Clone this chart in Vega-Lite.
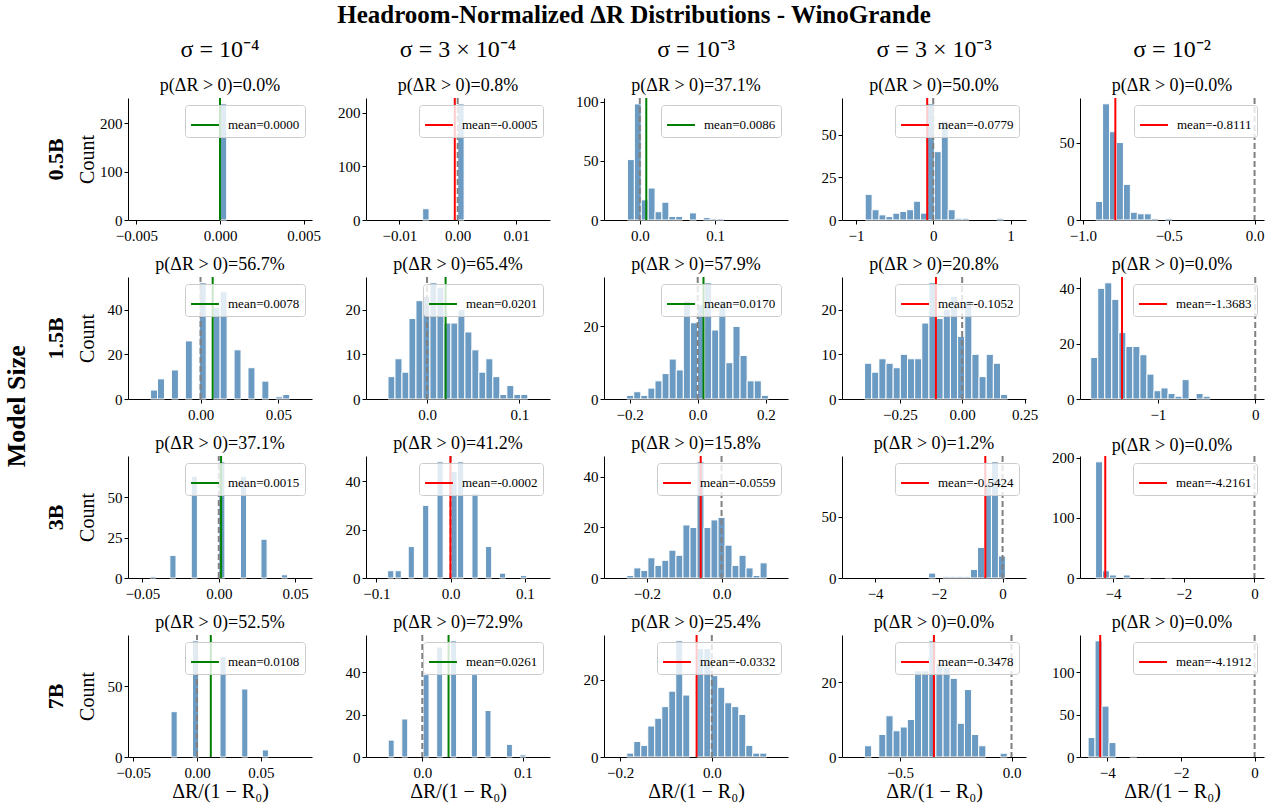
{
"$schema": "https://vega.github.io/schema/vega-lite/v6.json",
"background": "white",
"padding": {"left": 4, "top": 2, "right": 4, "bottom": 4},
"title": {"text": "Headroom-Normalized ΔR Distributions - WinoGrande", "fontSize": 25, "fontWeight": "bold", "offset": 10, "anchor": "middle", "frame": "bounds"},
"config": {
  "font": "Liberation Serif",
  "view": {"stroke": null},
  "axis": {"labelFont": "Liberation Serif", "labelFontSize": 15, "labelColor": "black", "titleFont": "Liberation Serif", "titleFontSize": 20, "titleFontWeight": "normal", "titleColor": "black", "domainColor": "black", "domainWidth": 1, "tickColor": "black", "tickWidth": 1, "tickSize": 4, "grid": false, "labelOverlap": false, "labelFlush": false, "labelBound": false},
  "axisX": {"labelPadding": 4, "titlePadding": 1},
  "axisY": {"labelPadding": 2},
  "title": {"font": "Liberation Serif", "fontSize": 18, "fontWeight": "normal", "color": "black", "subtitleFont": "Liberation Serif", "subtitleFontSize": 18, "subtitleColor": "black", "anchor": "middle", "frame": "group", "offset": 2},
  "legend": {"orient": "top-right", "offset": 7, "padding": 5, "fillColor": "rgba(255,255,255,0.8)", "strokeColor": "#cccccc", "cornerRadius": 3, "symbolType": "stroke", "symbolStrokeWidth": 2, "symbolSize": 780, "labelFont": "Liberation Serif", "labelFontSize": 13, "labelColor": "black", "labelOffset": 8, "labelLimit": 0}
},
"datasets": {
"stats": [
{"model":"0.5B","sigma":"1e-4","mean":0.0000,"label":"mean=0.0000"},
{"model":"0.5B","sigma":"3e-4","mean":-0.0005,"label":"mean=-0.0005"},
{"model":"0.5B","sigma":"1e-3","mean":0.0086,"label":"mean=0.0086"},
{"model":"0.5B","sigma":"3e-3","mean":-0.0779,"label":"mean=-0.0779"},
{"model":"0.5B","sigma":"1e-2","mean":-0.8111,"label":"mean=-0.8111"},
{"model":"1.5B","sigma":"1e-4","mean":0.0078,"label":"mean=0.0078"},
{"model":"1.5B","sigma":"3e-4","mean":0.0201,"label":"mean=0.0201"},
{"model":"1.5B","sigma":"1e-3","mean":0.0170,"label":"mean=0.0170"},
{"model":"1.5B","sigma":"3e-3","mean":-0.1052,"label":"mean=-0.1052"},
{"model":"1.5B","sigma":"1e-2","mean":-1.3683,"label":"mean=-1.3683"},
{"model":"3B","sigma":"1e-4","mean":0.0015,"label":"mean=0.0015"},
{"model":"3B","sigma":"3e-4","mean":-0.0002,"label":"mean=-0.0002"},
{"model":"3B","sigma":"1e-3","mean":-0.0559,"label":"mean=-0.0559"},
{"model":"3B","sigma":"3e-3","mean":-0.5424,"label":"mean=-0.5424"},
{"model":"3B","sigma":"1e-2","mean":-4.2161,"label":"mean=-4.2161"},
{"model":"7B","sigma":"1e-4","mean":0.0108,"label":"mean=0.0108"},
{"model":"7B","sigma":"3e-4","mean":0.0261,"label":"mean=0.0261"},
{"model":"7B","sigma":"1e-3","mean":-0.0332,"label":"mean=-0.0332"},
{"model":"7B","sigma":"3e-3","mean":-0.3478,"label":"mean=-0.3478"},
{"model":"7B","sigma":"1e-2","mean":-4.1912,"label":"mean=-4.1912"}
],
"bars": [
{"model":"0.5B","sigma":"1e-4","x0":0,"x1":0.0004,"count":240},
{"model":"0.5B","sigma":"3e-4","x0":-0.006,"x1":-0.0049,"count":21},
{"model":"0.5B","sigma":"3e-4","x0":0,"x1":0.0011,"count":216},
{"model":"0.5B","sigma":"1e-3","x0":-0.0164,"x1":-0.0072,"count":51},
{"model":"0.5B","sigma":"1e-3","x0":-0.0072,"x1":0.0019,"count":98},
{"model":"0.5B","sigma":"1e-3","x0":0.0019,"x1":0.0111,"count":17},
{"model":"0.5B","sigma":"1e-3","x0":0.0111,"x1":0.0203,"count":27},
{"model":"0.5B","sigma":"1e-3","x0":0.0203,"x1":0.0294,"count":7},
{"model":"0.5B","sigma":"1e-3","x0":0.0294,"x1":0.0386,"count":15},
{"model":"0.5B","sigma":"1e-3","x0":0.0386,"x1":0.0478,"count":3},
{"model":"0.5B","sigma":"1e-3","x0":0.0478,"x1":0.0569,"count":3},
{"model":"0.5B","sigma":"1e-3","x0":0.0661,"x1":0.0752,"count":6},
{"model":"0.5B","sigma":"1e-3","x0":0.0844,"x1":0.0936,"count":2},
{"model":"0.5B","sigma":"1e-3","x0":0.0936,"x1":0.1027,"count":1},
{"model":"0.5B","sigma":"1e-3","x0":0.1027,"x1":0.1119,"count":1},
{"model":"0.5B","sigma":"3e-3","x0":-0.88,"x1":-0.7905,"count":15},
{"model":"0.5B","sigma":"3e-3","x0":-0.7905,"x1":-0.701,"count":6},
{"model":"0.5B","sigma":"3e-3","x0":-0.701,"x1":-0.6115,"count":3},
{"model":"0.5B","sigma":"3e-3","x0":-0.6115,"x1":-0.522,"count":2},
{"model":"0.5B","sigma":"3e-3","x0":-0.522,"x1":-0.4325,"count":4},
{"model":"0.5B","sigma":"3e-3","x0":-0.4325,"x1":-0.343,"count":5},
{"model":"0.5B","sigma":"3e-3","x0":-0.343,"x1":-0.2535,"count":6},
{"model":"0.5B","sigma":"3e-3","x0":-0.2535,"x1":-0.164,"count":11},
{"model":"0.5B","sigma":"3e-3","x0":-0.164,"x1":-0.0745,"count":4},
{"model":"0.5B","sigma":"3e-3","x0":-0.0745,"x1":0.015,"count":68},
{"model":"0.5B","sigma":"3e-3","x0":0.015,"x1":0.1045,"count":40},
{"model":"0.5B","sigma":"3e-3","x0":0.1045,"x1":0.194,"count":58},
{"model":"0.5B","sigma":"3e-3","x0":0.194,"x1":0.2835,"count":6},
{"model":"0.5B","sigma":"3e-3","x0":0.2835,"x1":0.373,"count":1},
{"model":"0.5B","sigma":"3e-3","x0":0.373,"x1":0.4625,"count":1},
{"model":"0.5B","sigma":"3e-3","x0":0.8205,"x1":0.91,"count":1},
{"model":"0.5B","sigma":"1e-2","x0":-0.926,"x1":-0.8855,"count":12},
{"model":"0.5B","sigma":"1e-2","x0":-0.8855,"x1":-0.845,"count":75},
{"model":"0.5B","sigma":"1e-2","x0":-0.845,"x1":-0.8045,"count":57},
{"model":"0.5B","sigma":"1e-2","x0":-0.8045,"x1":-0.764,"count":50},
{"model":"0.5B","sigma":"1e-2","x0":-0.764,"x1":-0.7235,"count":23},
{"model":"0.5B","sigma":"1e-2","x0":-0.7235,"x1":-0.683,"count":5},
{"model":"0.5B","sigma":"1e-2","x0":-0.683,"x1":-0.6425,"count":4},
{"model":"0.5B","sigma":"1e-2","x0":-0.6425,"x1":-0.602,"count":4},
{"model":"0.5B","sigma":"1e-2","x0":-0.602,"x1":-0.5615,"count":1},
{"model":"0.5B","sigma":"1e-2","x0":-0.521,"x1":-0.4805,"count":1},
{"model":"1.5B","sigma":"1e-4","x0":-0.0321,"x1":-0.02763,"count":4},
{"model":"1.5B","sigma":"1e-4","x0":-0.02763,"x1":-0.02316,"count":9},
{"model":"1.5B","sigma":"1e-4","x0":-0.01869,"x1":-0.01422,"count":13},
{"model":"1.5B","sigma":"1e-4","x0":-0.00975,"x1":-0.00528,"count":26},
{"model":"1.5B","sigma":"1e-4","x0":-0.00081,"x1":0.00366,"count":52},
{"model":"1.5B","sigma":"1e-4","x0":0.00813,"x1":0.0126,"count":41},
{"model":"1.5B","sigma":"1e-4","x0":0.0126,"x1":0.01707,"count":48},
{"model":"1.5B","sigma":"1e-4","x0":0.02154,"x1":0.02601,"count":22},
{"model":"1.5B","sigma":"1e-4","x0":0.03048,"x1":0.03495,"count":14},
{"model":"1.5B","sigma":"1e-4","x0":0.03942,"x1":0.04389,"count":8},
{"model":"1.5B","sigma":"1e-4","x0":0.04836,"x1":0.05283,"count":1},
{"model":"1.5B","sigma":"1e-4","x0":0.05283,"x1":0.0573,"count":2},
{"model":"1.5B","sigma":"3e-4","x0":-0.0422,"x1":-0.03464,"count":5},
{"model":"1.5B","sigma":"3e-4","x0":-0.03464,"x1":-0.02708,"count":9},
{"model":"1.5B","sigma":"3e-4","x0":-0.02708,"x1":-0.01952,"count":6},
{"model":"1.5B","sigma":"3e-4","x0":-0.01952,"x1":-0.01196,"count":18},
{"model":"1.5B","sigma":"3e-4","x0":-0.01196,"x1":-0.0044,"count":22},
{"model":"1.5B","sigma":"3e-4","x0":-0.0044,"x1":0.00316,"count":23},
{"model":"1.5B","sigma":"3e-4","x0":0.00316,"x1":0.01072,"count":26},
{"model":"1.5B","sigma":"3e-4","x0":0.01072,"x1":0.01828,"count":25},
{"model":"1.5B","sigma":"3e-4","x0":0.01828,"x1":0.02584,"count":17},
{"model":"1.5B","sigma":"3e-4","x0":0.02584,"x1":0.0334,"count":17},
{"model":"1.5B","sigma":"3e-4","x0":0.0334,"x1":0.04096,"count":20},
{"model":"1.5B","sigma":"3e-4","x0":0.04096,"x1":0.04852,"count":15},
{"model":"1.5B","sigma":"3e-4","x0":0.04852,"x1":0.05608,"count":11},
{"model":"1.5B","sigma":"3e-4","x0":0.05608,"x1":0.06364,"count":6},
{"model":"1.5B","sigma":"3e-4","x0":0.06364,"x1":0.0712,"count":9},
{"model":"1.5B","sigma":"3e-4","x0":0.0712,"x1":0.07876,"count":5},
{"model":"1.5B","sigma":"3e-4","x0":0.07876,"x1":0.08632,"count":1},
{"model":"1.5B","sigma":"3e-4","x0":0.08632,"x1":0.09388,"count":3},
{"model":"1.5B","sigma":"3e-4","x0":0.09388,"x1":0.10144,"count":1},
{"model":"1.5B","sigma":"3e-4","x0":0.10144,"x1":0.109,"count":1},
{"model":"1.5B","sigma":"1e-3","x0":-0.2085,"x1":-0.1877,"count":1},
{"model":"1.5B","sigma":"1e-3","x0":-0.1877,"x1":-0.1669,"count":2},
{"model":"1.5B","sigma":"1e-3","x0":-0.1669,"x1":-0.1461,"count":1},
{"model":"1.5B","sigma":"1e-3","x0":-0.1461,"x1":-0.1253,"count":3},
{"model":"1.5B","sigma":"1e-3","x0":-0.1253,"x1":-0.1045,"count":5},
{"model":"1.5B","sigma":"1e-3","x0":-0.1045,"x1":-0.0837,"count":7},
{"model":"1.5B","sigma":"1e-3","x0":-0.0837,"x1":-0.0629,"count":11},
{"model":"1.5B","sigma":"1e-3","x0":-0.0629,"x1":-0.0421,"count":8},
{"model":"1.5B","sigma":"1e-3","x0":-0.0421,"x1":-0.0213,"count":27},
{"model":"1.5B","sigma":"1e-3","x0":-0.0213,"x1":-0.0005,"count":21},
{"model":"1.5B","sigma":"1e-3","x0":-0.0005,"x1":0.0203,"count":26},
{"model":"1.5B","sigma":"1e-3","x0":0.0203,"x1":0.0411,"count":32},
{"model":"1.5B","sigma":"1e-3","x0":0.0411,"x1":0.0619,"count":19},
{"model":"1.5B","sigma":"1e-3","x0":0.0619,"x1":0.0827,"count":27},
{"model":"1.5B","sigma":"1e-3","x0":0.0827,"x1":0.1035,"count":10},
{"model":"1.5B","sigma":"1e-3","x0":0.1035,"x1":0.1243,"count":20},
{"model":"1.5B","sigma":"1e-3","x0":0.1243,"x1":0.1451,"count":12},
{"model":"1.5B","sigma":"1e-3","x0":0.1451,"x1":0.1659,"count":5},
{"model":"1.5B","sigma":"1e-3","x0":0.1659,"x1":0.1867,"count":5},
{"model":"1.5B","sigma":"1e-3","x0":0.1867,"x1":0.2075,"count":1},
{"model":"1.5B","sigma":"3e-3","x0":-0.3915,"x1":-0.3628,"count":8},
{"model":"1.5B","sigma":"3e-3","x0":-0.3628,"x1":-0.3341,"count":6},
{"model":"1.5B","sigma":"3e-3","x0":-0.3341,"x1":-0.3054,"count":9},
{"model":"1.5B","sigma":"3e-3","x0":-0.3054,"x1":-0.2767,"count":8},
{"model":"1.5B","sigma":"3e-3","x0":-0.2767,"x1":-0.248,"count":7},
{"model":"1.5B","sigma":"3e-3","x0":-0.248,"x1":-0.2193,"count":10},
{"model":"1.5B","sigma":"3e-3","x0":-0.2193,"x1":-0.1906,"count":9},
{"model":"1.5B","sigma":"3e-3","x0":-0.1906,"x1":-0.1619,"count":9},
{"model":"1.5B","sigma":"3e-3","x0":-0.1619,"x1":-0.1332,"count":17},
{"model":"1.5B","sigma":"3e-3","x0":-0.1332,"x1":-0.1045,"count":26},
{"model":"1.5B","sigma":"3e-3","x0":-0.1045,"x1":-0.0758,"count":18},
{"model":"1.5B","sigma":"3e-3","x0":-0.0758,"x1":-0.0471,"count":20},
{"model":"1.5B","sigma":"3e-3","x0":-0.0471,"x1":-0.0184,"count":23},
{"model":"1.5B","sigma":"3e-3","x0":-0.0184,"x1":0.0103,"count":14},
{"model":"1.5B","sigma":"3e-3","x0":0.0103,"x1":0.039,"count":22},
{"model":"1.5B","sigma":"3e-3","x0":0.039,"x1":0.0677,"count":10},
{"model":"1.5B","sigma":"3e-3","x0":0.0677,"x1":0.0964,"count":5},
{"model":"1.5B","sigma":"3e-3","x0":0.0964,"x1":0.1251,"count":10},
{"model":"1.5B","sigma":"3e-3","x0":0.1251,"x1":0.1538,"count":8},
{"model":"1.5B","sigma":"3e-3","x0":0.1538,"x1":0.1825,"count":1},
{"model":"1.5B","sigma":"1e-2","x0":-1.69,"x1":-1.6178,"count":15},
{"model":"1.5B","sigma":"1e-2","x0":-1.6178,"x1":-1.5456,"count":40},
{"model":"1.5B","sigma":"1e-2","x0":-1.5456,"x1":-1.4734,"count":42},
{"model":"1.5B","sigma":"1e-2","x0":-1.4734,"x1":-1.4012,"count":36},
{"model":"1.5B","sigma":"1e-2","x0":-1.4012,"x1":-1.329,"count":24},
{"model":"1.5B","sigma":"1e-2","x0":-1.329,"x1":-1.2568,"count":19},
{"model":"1.5B","sigma":"1e-2","x0":-1.2568,"x1":-1.1846,"count":19},
{"model":"1.5B","sigma":"1e-2","x0":-1.1846,"x1":-1.1124,"count":16},
{"model":"1.5B","sigma":"1e-2","x0":-1.1124,"x1":-1.0402,"count":9},
{"model":"1.5B","sigma":"1e-2","x0":-1.0402,"x1":-0.968,"count":3},
{"model":"1.5B","sigma":"1e-2","x0":-0.968,"x1":-0.8958,"count":4},
{"model":"1.5B","sigma":"1e-2","x0":-0.8958,"x1":-0.8236,"count":2},
{"model":"1.5B","sigma":"1e-2","x0":-0.8236,"x1":-0.7514,"count":1},
{"model":"1.5B","sigma":"1e-2","x0":-0.7514,"x1":-0.6792,"count":7},
{"model":"1.5B","sigma":"1e-2","x0":-0.607,"x1":-0.5348,"count":2},
{"model":"1.5B","sigma":"1e-2","x0":-0.5348,"x1":-0.4626,"count":1},
{"model":"3B","sigma":"1e-4","x0":-0.045,"x1":-0.041,"count":1},
{"model":"3B","sigma":"1e-4","x0":-0.032,"x1":-0.028,"count":14},
{"model":"3B","sigma":"1e-4","x0":-0.018,"x1":-0.014,"count":63},
{"model":"3B","sigma":"1e-4","x0":0,"x1":0.004,"count":72},
{"model":"3B","sigma":"1e-4","x0":0.0142,"x1":0.0182,"count":63},
{"model":"3B","sigma":"1e-4","x0":0.0276,"x1":0.0316,"count":24},
{"model":"3B","sigma":"1e-4","x0":0.041,"x1":0.045,"count":2},
{"model":"3B","sigma":"3e-4","x0":-0.0848,"x1":-0.0765,"count":3},
{"model":"3B","sigma":"3e-4","x0":-0.0748,"x1":-0.0665,"count":3},
{"model":"3B","sigma":"3e-4","x0":-0.0571,"x1":-0.0488,"count":13},
{"model":"3B","sigma":"3e-4","x0":-0.0377,"x1":-0.0294,"count":30},
{"model":"3B","sigma":"3e-4","x0":-0.0183,"x1":-0.01,"count":48},
{"model":"3B","sigma":"3e-4","x0":0.0005,"x1":0.0088,"count":44},
{"model":"3B","sigma":"3e-4","x0":0.0094,"x1":0.0177,"count":48},
{"model":"3B","sigma":"3e-4","x0":0.0288,"x1":0.0371,"count":35},
{"model":"3B","sigma":"3e-4","x0":0.0471,"x1":0.0554,"count":13},
{"model":"3B","sigma":"3e-4","x0":0.0659,"x1":0.0742,"count":2},
{"model":"3B","sigma":"3e-4","x0":0.0942,"x1":0.1025,"count":1},
{"model":"3B","sigma":"1e-3","x0":-0.2538,"x1":-0.235,"count":1},
{"model":"3B","sigma":"1e-3","x0":-0.235,"x1":-0.2162,"count":4},
{"model":"3B","sigma":"1e-3","x0":-0.2162,"x1":-0.1974,"count":3},
{"model":"3B","sigma":"1e-3","x0":-0.1974,"x1":-0.1786,"count":8},
{"model":"3B","sigma":"1e-3","x0":-0.1786,"x1":-0.1599,"count":5},
{"model":"3B","sigma":"1e-3","x0":-0.1599,"x1":-0.1411,"count":7},
{"model":"3B","sigma":"1e-3","x0":-0.1411,"x1":-0.1223,"count":11},
{"model":"3B","sigma":"1e-3","x0":-0.1223,"x1":-0.1035,"count":9},
{"model":"3B","sigma":"1e-3","x0":-0.1035,"x1":-0.0847,"count":21},
{"model":"3B","sigma":"1e-3","x0":-0.0847,"x1":-0.0659,"count":20},
{"model":"3B","sigma":"1e-3","x0":-0.0659,"x1":-0.0471,"count":46},
{"model":"3B","sigma":"1e-3","x0":-0.0471,"x1":-0.0283,"count":20},
{"model":"3B","sigma":"1e-3","x0":-0.0283,"x1":-0.0095,"count":23},
{"model":"3B","sigma":"1e-3","x0":-0.0095,"x1":0.0093,"count":24},
{"model":"3B","sigma":"1e-3","x0":0.0093,"x1":0.0281,"count":13},
{"model":"3B","sigma":"1e-3","x0":0.0281,"x1":0.0468,"count":5},
{"model":"3B","sigma":"1e-3","x0":0.0468,"x1":0.0656,"count":9},
{"model":"3B","sigma":"1e-3","x0":0.0656,"x1":0.0844,"count":4},
{"model":"3B","sigma":"1e-3","x0":0.0844,"x1":0.1032,"count":1},
{"model":"3B","sigma":"1e-3","x0":0.1032,"x1":0.122,"count":6},
{"model":"3B","sigma":"3e-3","x0":-2.32,"x1":-2.101,"count":4},
{"model":"3B","sigma":"3e-3","x0":-1.882,"x1":-1.663,"count":1},
{"model":"3B","sigma":"3e-3","x0":-1.663,"x1":-1.444,"count":1},
{"model":"3B","sigma":"3e-3","x0":-1.444,"x1":-1.225,"count":1},
{"model":"3B","sigma":"3e-3","x0":-1.225,"x1":-1.006,"count":1},
{"model":"3B","sigma":"3e-3","x0":-1.006,"x1":-0.787,"count":7},
{"model":"3B","sigma":"3e-3","x0":-0.787,"x1":-0.568,"count":25},
{"model":"3B","sigma":"3e-3","x0":-0.568,"x1":-0.349,"count":78},
{"model":"3B","sigma":"3e-3","x0":-0.349,"x1":-0.13,"count":95},
{"model":"3B","sigma":"3e-3","x0":-0.13,"x1":0.089,"count":18},
{"model":"3B","sigma":"1e-2","x0":-4.49,"x1":-4.294,"count":193},
{"model":"3B","sigma":"1e-2","x0":-4.294,"x1":-4.098,"count":12},
{"model":"3B","sigma":"1e-2","x0":-4.098,"x1":-3.902,"count":5},
{"model":"3B","sigma":"1e-2","x0":-3.706,"x1":-3.51,"count":5},
{"model":"3B","sigma":"1e-2","x0":-3.118,"x1":-2.922,"count":1},
{"model":"3B","sigma":"1e-2","x0":-2.53,"x1":-2.334,"count":1},
{"model":"7B","sigma":"1e-4","x0":-0.0203,"x1":-0.0155,"count":32},
{"model":"7B","sigma":"1e-4","x0":-0.0035,"x1":0.0013,"count":82},
{"model":"7B","sigma":"1e-4","x0":0.018,"x1":0.0228,"count":71},
{"model":"7B","sigma":"1e-4","x0":0.035,"x1":0.0398,"count":48},
{"model":"7B","sigma":"1e-4","x0":0.0511,"x1":0.0559,"count":5},
{"model":"7B","sigma":"3e-4","x0":-0.0339,"x1":-0.028,"count":8},
{"model":"7B","sigma":"3e-4","x0":-0.0204,"x1":-0.0145,"count":18},
{"model":"7B","sigma":"3e-4","x0":0.0008,"x1":0.0067,"count":39},
{"model":"7B","sigma":"3e-4","x0":0.0143,"x1":0.0202,"count":52},
{"model":"7B","sigma":"3e-4","x0":0.0282,"x1":0.0341,"count":55},
{"model":"7B","sigma":"3e-4","x0":0.049,"x1":0.0549,"count":39},
{"model":"7B","sigma":"3e-4","x0":0.0624,"x1":0.0683,"count":22},
{"model":"7B","sigma":"3e-4","x0":0.0837,"x1":0.0896,"count":6},
{"model":"7B","sigma":"3e-4","x0":0.0971,"x1":0.103,"count":1},
{"model":"7B","sigma":"1e-3","x0":-0.1854,"x1":-0.1701,"count":1},
{"model":"7B","sigma":"1e-3","x0":-0.1701,"x1":-0.1549,"count":4},
{"model":"7B","sigma":"1e-3","x0":-0.1549,"x1":-0.1396,"count":3},
{"model":"7B","sigma":"1e-3","x0":-0.1396,"x1":-0.1244,"count":8},
{"model":"7B","sigma":"1e-3","x0":-0.1244,"x1":-0.1091,"count":10},
{"model":"7B","sigma":"1e-3","x0":-0.1091,"x1":-0.0938,"count":13},
{"model":"7B","sigma":"1e-3","x0":-0.0938,"x1":-0.0786,"count":17},
{"model":"7B","sigma":"1e-3","x0":-0.0786,"x1":-0.0633,"count":30},
{"model":"7B","sigma":"1e-3","x0":-0.0633,"x1":-0.0481,"count":16},
{"model":"7B","sigma":"1e-3","x0":-0.0328,"x1":-0.0175,"count":28},
{"model":"7B","sigma":"1e-3","x0":-0.0175,"x1":-0.0023,"count":28},
{"model":"7B","sigma":"1e-3","x0":-0.0023,"x1":0.013,"count":21},
{"model":"7B","sigma":"1e-3","x0":0.013,"x1":0.0282,"count":18},
{"model":"7B","sigma":"1e-3","x0":0.0282,"x1":0.0435,"count":14},
{"model":"7B","sigma":"1e-3","x0":0.0435,"x1":0.0588,"count":13},
{"model":"7B","sigma":"1e-3","x0":0.0588,"x1":0.074,"count":11},
{"model":"7B","sigma":"1e-3","x0":0.074,"x1":0.0893,"count":3},
{"model":"7B","sigma":"1e-3","x0":0.0893,"x1":0.1045,"count":1},
{"model":"7B","sigma":"1e-3","x0":0.1045,"x1":0.1198,"count":1},
{"model":"7B","sigma":"3e-3","x0":-0.659,"x1":-0.627,"count":3},
{"model":"7B","sigma":"3e-3","x0":-0.595,"x1":-0.563,"count":6},
{"model":"7B","sigma":"3e-3","x0":-0.563,"x1":-0.531,"count":11},
{"model":"7B","sigma":"3e-3","x0":-0.531,"x1":-0.499,"count":7},
{"model":"7B","sigma":"3e-3","x0":-0.499,"x1":-0.467,"count":8},
{"model":"7B","sigma":"3e-3","x0":-0.467,"x1":-0.435,"count":10},
{"model":"7B","sigma":"3e-3","x0":-0.435,"x1":-0.403,"count":23},
{"model":"7B","sigma":"3e-3","x0":-0.403,"x1":-0.371,"count":23},
{"model":"7B","sigma":"3e-3","x0":-0.371,"x1":-0.339,"count":31},
{"model":"7B","sigma":"3e-3","x0":-0.339,"x1":-0.307,"count":25},
{"model":"7B","sigma":"3e-3","x0":-0.307,"x1":-0.275,"count":24},
{"model":"7B","sigma":"3e-3","x0":-0.275,"x1":-0.243,"count":21},
{"model":"7B","sigma":"3e-3","x0":-0.243,"x1":-0.211,"count":9},
{"model":"7B","sigma":"3e-3","x0":-0.211,"x1":-0.179,"count":18},
{"model":"7B","sigma":"3e-3","x0":-0.179,"x1":-0.147,"count":6},
{"model":"7B","sigma":"3e-3","x0":-0.147,"x1":-0.115,"count":3},
{"model":"7B","sigma":"3e-3","x0":-0.051,"x1":-0.019,"count":1},
{"model":"7B","sigma":"1e-2","x0":-4.52,"x1":-4.331,"count":23},
{"model":"7B","sigma":"1e-2","x0":-4.331,"x1":-4.142,"count":137},
{"model":"7B","sigma":"1e-2","x0":-4.142,"x1":-3.953,"count":60},
{"model":"7B","sigma":"1e-2","x0":-3.953,"x1":-3.764,"count":17},
{"model":"7B","sigma":"1e-2","x0":-3.386,"x1":-3.197,"count":1}
]
},
"vconcat": [
{
"title": {"text": "Model Size", "orient": "left", "fontSize": 26, "fontWeight": "bold", "offset": 14, "anchor": "middle", "frame": "bounds", "dx": 13},
"columns": 5,
"spacing": {"row": 57, "column": 54},
"bounds": "flush",
"resolve": {"scale": {"color": "independent"}, "legend": {"color": "independent"}},
"concat": [
{"width":184,"height":122,"title":{"text":"σ = 10⁻⁴","subtitle":"p(ΔR > 0)=0.0%","fontSize":24,"subtitlePadding":15},
"resolve":{"scale":{"y":"independent"},"axis":{"y":"independent"}},
"layer":[
{"data":{"name":"bars"},"transform":[{"filter":"datum.model==='0.5B'&&datum.sigma==='1e-4'"}],"mark":{"type":"rect","fill":"#6b9bc3","stroke":"white","strokeWidth":1},
"encoding":{"x":{"field":"x0","type":"quantitative","scale":{"domain":[-0.0055,0.0055],"nice":false,"zero":false},"axis":{"values":[-0.005,0,0.005],"format":".3f","title":null}},"x2":{"field":"x1"},
"y":{"field":"count","type":"quantitative","scale":{"domain":[0,252],"nice":false},"axis":{"values":[0,100,200],"format":"d","title":"Count","titleX":-31,"titleAngle":270,"titleBaseline":"bottom"}},"y2":{"datum":0}}},
{"data":{"name":"stats"},"transform":[{"filter":"datum.model==='0.5B'&&datum.sigma==='1e-4'"}],"mark":{"type":"rule","stroke":"#808080","strokeDash":[6,3],"strokeWidth":2},
"encoding":{"x":{"datum":0,"type":"quantitative","scale":{"domain":[-0.0055,0.0055],"nice":false,"zero":false},"axis":{"values":[-0.005,0,0.005],"format":".3f","title":null}},
"y":{"datum":0,"type":"quantitative","scale":{"domain":[0,1]},"axis":{"orient":"left","title":"0.5B","titleFontWeight":"bold","titleFontSize":22,"titleX":-61,"titleAngle":270,"titleBaseline":"bottom","domain":false,"ticks":false,"labels":false,"grid":false}},"y2":{"datum":1}}},
{"data":{"name":"stats"},"transform":[{"filter":"datum.model==='0.5B'&&datum.sigma==='1e-4'"}],"mark":{"type":"rule","strokeWidth":2},
"encoding":{"x":{"field":"mean","type":"quantitative","scale":{"domain":[-0.0055,0.0055],"nice":false,"zero":false},"axis":{"values":[-0.005,0,0.005],"format":".3f","title":null}},"color":{"field":"label","type":"nominal","scale":{"range":["#008000"]},"legend":{"title":null}}}}
]},
{"width":184,"height":122,"title":{"text":"σ = 3 × 10⁻⁴","subtitle":"p(ΔR > 0)=0.8%","fontSize":24,"subtitlePadding":15},
"layer":[
{"data":{"name":"bars"},"transform":[{"filter":"datum.model==='0.5B'&&datum.sigma==='3e-4'"}],"mark":{"type":"rect","fill":"#6b9bc3","stroke":"white","strokeWidth":1},
"encoding":{"x":{"field":"x0","type":"quantitative","scale":{"domain":[-0.0157,0.0158],"nice":false,"zero":false},"axis":{"values":[-0.01,0,0.01],"format":".2f","title":null}},"x2":{"field":"x1"},
"y":{"field":"count","type":"quantitative","scale":{"domain":[0,227],"nice":false},"axis":{"values":[0,100,200],"format":"d","title":null}},"y2":{"datum":0}}},
{"data":{"name":"stats"},"transform":[{"filter":"datum.model==='0.5B'&&datum.sigma==='3e-4'"}],"mark":{"type":"rule","stroke":"#808080","strokeDash":[6,3],"strokeWidth":2},
"encoding":{"x":{"datum":0,"type":"quantitative","scale":{"domain":[-0.0157,0.0158],"nice":false,"zero":false},"axis":{"values":[-0.01,0,0.01],"format":".2f","title":null}}}},
{"data":{"name":"stats"},"transform":[{"filter":"datum.model==='0.5B'&&datum.sigma==='3e-4'"}],"mark":{"type":"rule","strokeWidth":2},
"encoding":{"x":{"field":"mean","type":"quantitative","scale":{"domain":[-0.0157,0.0158],"nice":false,"zero":false},"axis":{"values":[-0.01,0,0.01],"format":".2f","title":null}},"color":{"field":"label","type":"nominal","scale":{"range":["#ff0000"]},"legend":{"title":null}}}}
]},
{"width":184,"height":122,"title":{"text":"σ = 10⁻³","subtitle":"p(ΔR > 0)=37.1%","fontSize":24,"subtitlePadding":15,"offset":0},
"layer":[
{"data":{"name":"bars"},"transform":[{"filter":"datum.model==='0.5B'&&datum.sigma==='1e-3'"}],"mark":{"type":"rect","fill":"#6b9bc3","stroke":"white","strokeWidth":1},
"encoding":{"x":{"field":"x0","type":"quantitative","scale":{"domain":[-0.0476,0.197],"nice":false,"zero":false},"axis":{"values":[0,0.1],"format":".1f","title":null}},"x2":{"field":"x1"},
"y":{"field":"count","type":"quantitative","scale":{"domain":[0,103],"nice":false},"axis":{"values":[0,50,100],"format":"d","title":null}},"y2":{"datum":0}}},
{"data":{"name":"stats"},"transform":[{"filter":"datum.model==='0.5B'&&datum.sigma==='1e-3'"}],"mark":{"type":"rule","stroke":"#808080","strokeDash":[6,3],"strokeWidth":2},
"encoding":{"x":{"datum":0,"type":"quantitative","scale":{"domain":[-0.0476,0.197],"nice":false,"zero":false},"axis":{"values":[0,0.1],"format":".1f","title":null}}}},
{"data":{"name":"stats"},"transform":[{"filter":"datum.model==='0.5B'&&datum.sigma==='1e-3'"}],"mark":{"type":"rule","strokeWidth":2},
"encoding":{"x":{"field":"mean","type":"quantitative","scale":{"domain":[-0.0476,0.197],"nice":false,"zero":false},"axis":{"values":[0,0.1],"format":".1f","title":null}},"color":{"field":"label","type":"nominal","scale":{"range":["#008000"]},"legend":{"title":null}}}}
]},
{"width":184,"height":122,"title":{"text":"σ = 3 × 10⁻³","subtitle":"p(ΔR > 0)=50.0%","fontSize":24,"subtitlePadding":15},
"layer":[
{"data":{"name":"bars"},"transform":[{"filter":"datum.model==='0.5B'&&datum.sigma==='3e-3'"}],"mark":{"type":"rect","fill":"#6b9bc3","stroke":"white","strokeWidth":1},
"encoding":{"x":{"field":"x0","type":"quantitative","scale":{"domain":[-1.18,1.2],"nice":false,"zero":false},"axis":{"values":[-1,0,1],"format":"d","title":null}},"x2":{"field":"x1"},
"y":{"field":"count","type":"quantitative","scale":{"domain":[0,71.4],"nice":false},"axis":{"values":[0,25,50],"format":"d","title":null}},"y2":{"datum":0}}},
{"data":{"name":"stats"},"transform":[{"filter":"datum.model==='0.5B'&&datum.sigma==='3e-3'"}],"mark":{"type":"rule","stroke":"#808080","strokeDash":[6,3],"strokeWidth":2},
"encoding":{"x":{"datum":0,"type":"quantitative","scale":{"domain":[-1.18,1.2],"nice":false,"zero":false},"axis":{"values":[-1,0,1],"format":"d","title":null}}}},
{"data":{"name":"stats"},"transform":[{"filter":"datum.model==='0.5B'&&datum.sigma==='3e-3'"}],"mark":{"type":"rule","strokeWidth":2},
"encoding":{"x":{"field":"mean","type":"quantitative","scale":{"domain":[-1.18,1.2],"nice":false,"zero":false},"axis":{"values":[-1,0,1],"format":"d","title":null}},"color":{"field":"label","type":"nominal","scale":{"range":["#ff0000"]},"legend":{"title":null}}}}
]},
{"width":184,"height":122,"title":{"text":"σ = 10⁻²","subtitle":"p(ΔR > 0)=0.0%","fontSize":24,"subtitlePadding":15},
"layer":[
{"data":{"name":"bars"},"transform":[{"filter":"datum.model==='0.5B'&&datum.sigma==='1e-2'"}],"mark":{"type":"rect","fill":"#6b9bc3","stroke":"white","strokeWidth":1},
"encoding":{"x":{"field":"x0","type":"quantitative","scale":{"domain":[-1.017,0.055],"nice":false,"zero":false},"axis":{"values":[-1,-0.5,0],"format":".1f","title":null}},"x2":{"field":"x1"},
"y":{"field":"count","type":"quantitative","scale":{"domain":[0,78.75],"nice":false},"axis":{"values":[0,50],"format":"d","title":null}},"y2":{"datum":0}}},
{"data":{"name":"stats"},"transform":[{"filter":"datum.model==='0.5B'&&datum.sigma==='1e-2'"}],"mark":{"type":"rule","stroke":"#808080","strokeDash":[6,3],"strokeWidth":2},
"encoding":{"x":{"datum":0,"type":"quantitative","scale":{"domain":[-1.017,0.055],"nice":false,"zero":false},"axis":{"values":[-1,-0.5,0],"format":".1f","title":null}}}},
{"data":{"name":"stats"},"transform":[{"filter":"datum.model==='0.5B'&&datum.sigma==='1e-2'"}],"mark":{"type":"rule","strokeWidth":2},
"encoding":{"x":{"field":"mean","type":"quantitative","scale":{"domain":[-1.017,0.055],"nice":false,"zero":false},"axis":{"values":[-1,-0.5,0],"format":".1f","title":null}},"color":{"field":"label","type":"nominal","scale":{"range":["#ff0000"]},"legend":{"title":null}}}}
]},

{"width":184,"height":122,"title":{"text":"p(ΔR > 0)=56.7%"},
"resolve":{"scale":{"y":"independent"},"axis":{"y":"independent"}},
"layer":[
{"data":{"name":"bars"},"transform":[{"filter":"datum.model==='1.5B'&&datum.sigma==='1e-4'"}],"mark":{"type":"rect","fill":"#6b9bc3","stroke":"white","strokeWidth":1},
"encoding":{"x":{"field":"x0","type":"quantitative","scale":{"domain":[-0.0466,0.0716],"nice":false,"zero":false},"axis":{"values":[0,0.05],"format":".2f","title":null}},"x2":{"field":"x1"},
"y":{"field":"count","type":"quantitative","scale":{"domain":[0,54.6],"nice":false},"axis":{"values":[0,20,40],"format":"d","title":"Count","titleX":-31,"titleAngle":270,"titleBaseline":"bottom"}},"y2":{"datum":0}}},
{"data":{"name":"stats"},"transform":[{"filter":"datum.model==='1.5B'&&datum.sigma==='1e-4'"}],"mark":{"type":"rule","stroke":"#808080","strokeDash":[6,3],"strokeWidth":2},
"encoding":{"x":{"datum":0,"type":"quantitative","scale":{"domain":[-0.0466,0.0716],"nice":false,"zero":false},"axis":{"values":[0,0.05],"format":".2f","title":null}},
"y":{"datum":0,"type":"quantitative","scale":{"domain":[0,1]},"axis":{"orient":"left","title":"1.5B","titleFontWeight":"bold","titleFontSize":22,"titleX":-61,"titleAngle":270,"titleBaseline":"bottom","domain":false,"ticks":false,"labels":false,"grid":false}},"y2":{"datum":1}}},
{"data":{"name":"stats"},"transform":[{"filter":"datum.model==='1.5B'&&datum.sigma==='1e-4'"}],"mark":{"type":"rule","strokeWidth":2},
"encoding":{"x":{"field":"mean","type":"quantitative","scale":{"domain":[-0.0466,0.0716],"nice":false,"zero":false},"axis":{"values":[0,0.05],"format":".2f","title":null}},"color":{"field":"label","type":"nominal","scale":{"range":["#008000"]},"legend":{"title":null}}}}
]},
{"width":184,"height":122,"title":{"text":"p(ΔR > 0)=65.4%"},
"layer":[
{"data":{"name":"bars"},"transform":[{"filter":"datum.model==='1.5B'&&datum.sigma==='3e-4'"}],"mark":{"type":"rect","fill":"#6b9bc3","stroke":"white","strokeWidth":1},
"encoding":{"x":{"field":"x0","type":"quantitative","scale":{"domain":[-0.066,0.133],"nice":false,"zero":false},"axis":{"values":[0,0.1],"format":".1f","title":null}},"x2":{"field":"x1"},
"y":{"field":"count","type":"quantitative","scale":{"domain":[0,27.3],"nice":false},"axis":{"values":[0,10,20],"format":"d","title":null}},"y2":{"datum":0}}},
{"data":{"name":"stats"},"transform":[{"filter":"datum.model==='1.5B'&&datum.sigma==='3e-4'"}],"mark":{"type":"rule","stroke":"#808080","strokeDash":[6,3],"strokeWidth":2},
"encoding":{"x":{"datum":0,"type":"quantitative","scale":{"domain":[-0.066,0.133],"nice":false,"zero":false},"axis":{"values":[0,0.1],"format":".1f","title":null}}}},
{"data":{"name":"stats"},"transform":[{"filter":"datum.model==='1.5B'&&datum.sigma==='3e-4'"}],"mark":{"type":"rule","strokeWidth":2},
"encoding":{"x":{"field":"mean","type":"quantitative","scale":{"domain":[-0.066,0.133],"nice":false,"zero":false},"axis":{"values":[0,0.1],"format":".1f","title":null}},"color":{"field":"label","type":"nominal","scale":{"range":["#008000"]},"legend":{"title":null}}}}
]},
{"width":184,"height":122,"title":{"text":"p(ΔR > 0)=57.9%"},
"layer":[
{"data":{"name":"bars"},"transform":[{"filter":"datum.model==='1.5B'&&datum.sigma==='1e-3'"}],"mark":{"type":"rect","fill":"#6b9bc3","stroke":"white","strokeWidth":1},
"encoding":{"x":{"field":"x0","type":"quantitative","scale":{"domain":[-0.275,0.265],"nice":false,"zero":false},"axis":{"values":[-0.2,0,0.2],"format":".1f","title":null}},"x2":{"field":"x1"},
"y":{"field":"count","type":"quantitative","scale":{"domain":[0,33.6],"nice":false},"axis":{"values":[0,20],"format":"d","title":null}},"y2":{"datum":0}}},
{"data":{"name":"stats"},"transform":[{"filter":"datum.model==='1.5B'&&datum.sigma==='1e-3'"}],"mark":{"type":"rule","stroke":"#808080","strokeDash":[6,3],"strokeWidth":2},
"encoding":{"x":{"datum":0,"type":"quantitative","scale":{"domain":[-0.275,0.265],"nice":false,"zero":false},"axis":{"values":[-0.2,0,0.2],"format":".1f","title":null}}}},
{"data":{"name":"stats"},"transform":[{"filter":"datum.model==='1.5B'&&datum.sigma==='1e-3'"}],"mark":{"type":"rule","strokeWidth":2},
"encoding":{"x":{"field":"mean","type":"quantitative","scale":{"domain":[-0.275,0.265],"nice":false,"zero":false},"axis":{"values":[-0.2,0,0.2],"format":".1f","title":null}},"color":{"field":"label","type":"nominal","scale":{"range":["#008000"]},"legend":{"title":null}}}}
]},
{"width":184,"height":122,"title":{"text":"p(ΔR > 0)=20.8%"},
"layer":[
{"data":{"name":"bars"},"transform":[{"filter":"datum.model==='1.5B'&&datum.sigma==='3e-3'"}],"mark":{"type":"rect","fill":"#6b9bc3","stroke":"white","strokeWidth":1},
"encoding":{"x":{"field":"x0","type":"quantitative","scale":{"domain":[-0.482,0.256],"nice":false,"zero":false},"axis":{"values":[-0.25,0,0.25],"format":".2f","title":null}},"x2":{"field":"x1"},
"y":{"field":"count","type":"quantitative","scale":{"domain":[0,27.3],"nice":false},"axis":{"values":[0,10,20],"format":"d","title":null}},"y2":{"datum":0}}},
{"data":{"name":"stats"},"transform":[{"filter":"datum.model==='1.5B'&&datum.sigma==='3e-3'"}],"mark":{"type":"rule","stroke":"#808080","strokeDash":[6,3],"strokeWidth":2},
"encoding":{"x":{"datum":0,"type":"quantitative","scale":{"domain":[-0.482,0.256],"nice":false,"zero":false},"axis":{"values":[-0.25,0,0.25],"format":".2f","title":null}}}},
{"data":{"name":"stats"},"transform":[{"filter":"datum.model==='1.5B'&&datum.sigma==='3e-3'"}],"mark":{"type":"rule","strokeWidth":2},
"encoding":{"x":{"field":"mean","type":"quantitative","scale":{"domain":[-0.482,0.256],"nice":false,"zero":false},"axis":{"values":[-0.25,0,0.25],"format":".2f","title":null}},"color":{"field":"label","type":"nominal","scale":{"range":["#ff0000"]},"legend":{"title":null}}}}
]},
{"width":184,"height":122,"title":{"text":"p(ΔR > 0)=0.0%"},
"layer":[
{"data":{"name":"bars"},"transform":[{"filter":"datum.model==='1.5B'&&datum.sigma==='1e-2'"}],"mark":{"type":"rect","fill":"#6b9bc3","stroke":"white","strokeWidth":1},
"encoding":{"x":{"field":"x0","type":"quantitative","scale":{"domain":[-1.8,0.09],"nice":false,"zero":false},"axis":{"values":[-1,0],"format":"d","title":null}},"x2":{"field":"x1"},
"y":{"field":"count","type":"quantitative","scale":{"domain":[0,44.1],"nice":false},"axis":{"values":[0,20,40],"format":"d","title":null}},"y2":{"datum":0}}},
{"data":{"name":"stats"},"transform":[{"filter":"datum.model==='1.5B'&&datum.sigma==='1e-2'"}],"mark":{"type":"rule","stroke":"#808080","strokeDash":[6,3],"strokeWidth":2},
"encoding":{"x":{"datum":0,"type":"quantitative","scale":{"domain":[-1.8,0.09],"nice":false,"zero":false},"axis":{"values":[-1,0],"format":"d","title":null}}}},
{"data":{"name":"stats"},"transform":[{"filter":"datum.model==='1.5B'&&datum.sigma==='1e-2'"}],"mark":{"type":"rule","strokeWidth":2},
"encoding":{"x":{"field":"mean","type":"quantitative","scale":{"domain":[-1.8,0.09],"nice":false,"zero":false},"axis":{"values":[-1,0],"format":"d","title":null}},"color":{"field":"label","type":"nominal","scale":{"range":["#ff0000"]},"legend":{"title":null}}}}
]},

{"width":184,"height":122,"title":{"text":"p(ΔR > 0)=37.1%"},
"resolve":{"scale":{"y":"independent"},"axis":{"y":"independent"}},
"layer":[
{"data":{"name":"bars"},"transform":[{"filter":"datum.model==='3B'&&datum.sigma==='1e-4'"}],"mark":{"type":"rect","fill":"#6b9bc3","stroke":"white","strokeWidth":1},
"encoding":{"x":{"field":"x0","type":"quantitative","scale":{"domain":[-0.0594,0.061],"nice":false,"zero":false},"axis":{"values":[-0.05,0,0.05],"format":".2f","title":null}},"x2":{"field":"x1"},
"y":{"field":"count","type":"quantitative","scale":{"domain":[0,75.6],"nice":false},"axis":{"values":[0,25,50],"format":"d","title":"Count","titleX":-31,"titleAngle":270,"titleBaseline":"bottom"}},"y2":{"datum":0}}},
{"data":{"name":"stats"},"transform":[{"filter":"datum.model==='3B'&&datum.sigma==='1e-4'"}],"mark":{"type":"rule","stroke":"#808080","strokeDash":[6,3],"strokeWidth":2},
"encoding":{"x":{"datum":0,"type":"quantitative","scale":{"domain":[-0.0594,0.061],"nice":false,"zero":false},"axis":{"values":[-0.05,0,0.05],"format":".2f","title":null}},
"y":{"datum":0,"type":"quantitative","scale":{"domain":[0,1]},"axis":{"orient":"left","title":"3B","titleFontWeight":"bold","titleFontSize":22,"titleX":-61,"titleAngle":270,"titleBaseline":"bottom","domain":false,"ticks":false,"labels":false,"grid":false}},"y2":{"datum":1}}},
{"data":{"name":"stats"},"transform":[{"filter":"datum.model==='3B'&&datum.sigma==='1e-4'"}],"mark":{"type":"rule","strokeWidth":2},
"encoding":{"x":{"field":"mean","type":"quantitative","scale":{"domain":[-0.0594,0.061],"nice":false,"zero":false},"axis":{"values":[-0.05,0,0.05],"format":".2f","title":null}},"color":{"field":"label","type":"nominal","scale":{"range":["#008000"]},"legend":{"title":null}}}}
]},
{"width":184,"height":122,"title":{"text":"p(ΔR > 0)=41.2%"},
"layer":[
{"data":{"name":"bars"},"transform":[{"filter":"datum.model==='3B'&&datum.sigma==='3e-4'"}],"mark":{"type":"rect","fill":"#6b9bc3","stroke":"white","strokeWidth":1},
"encoding":{"x":{"field":"x0","type":"quantitative","scale":{"domain":[-0.114,0.134],"nice":false,"zero":false},"axis":{"values":[-0.1,0,0.1],"format":".1f","title":null}},"x2":{"field":"x1"},
"y":{"field":"count","type":"quantitative","scale":{"domain":[0,50.4],"nice":false},"axis":{"values":[0,20,40],"format":"d","title":null}},"y2":{"datum":0}}},
{"data":{"name":"stats"},"transform":[{"filter":"datum.model==='3B'&&datum.sigma==='3e-4'"}],"mark":{"type":"rule","stroke":"#808080","strokeDash":[6,3],"strokeWidth":2},
"encoding":{"x":{"datum":0,"type":"quantitative","scale":{"domain":[-0.114,0.134],"nice":false,"zero":false},"axis":{"values":[-0.1,0,0.1],"format":".1f","title":null}}}},
{"data":{"name":"stats"},"transform":[{"filter":"datum.model==='3B'&&datum.sigma==='3e-4'"}],"mark":{"type":"rule","strokeWidth":2},
"encoding":{"x":{"field":"mean","type":"quantitative","scale":{"domain":[-0.114,0.134],"nice":false,"zero":false},"axis":{"values":[-0.1,0,0.1],"format":".1f","title":null}},"color":{"field":"label","type":"nominal","scale":{"range":["#ff0000"]},"legend":{"title":null}}}}
]},
{"width":184,"height":122,"title":{"text":"p(ΔR > 0)=15.8%"},
"layer":[
{"data":{"name":"bars"},"transform":[{"filter":"datum.model==='3B'&&datum.sigma==='1e-3'"}],"mark":{"type":"rect","fill":"#6b9bc3","stroke":"white","strokeWidth":1},
"encoding":{"x":{"field":"x0","type":"quantitative","scale":{"domain":[-0.315,0.178],"nice":false,"zero":false},"axis":{"values":[-0.2,0],"format":".1f","title":null}},"x2":{"field":"x1"},
"y":{"field":"count","type":"quantitative","scale":{"domain":[0,48.3],"nice":false},"axis":{"values":[0,20,40],"format":"d","title":null}},"y2":{"datum":0}}},
{"data":{"name":"stats"},"transform":[{"filter":"datum.model==='3B'&&datum.sigma==='1e-3'"}],"mark":{"type":"rule","stroke":"#808080","strokeDash":[6,3],"strokeWidth":2},
"encoding":{"x":{"datum":0,"type":"quantitative","scale":{"domain":[-0.315,0.178],"nice":false,"zero":false},"axis":{"values":[-0.2,0],"format":".1f","title":null}}}},
{"data":{"name":"stats"},"transform":[{"filter":"datum.model==='3B'&&datum.sigma==='1e-3'"}],"mark":{"type":"rule","strokeWidth":2},
"encoding":{"x":{"field":"mean","type":"quantitative","scale":{"domain":[-0.315,0.178],"nice":false,"zero":false},"axis":{"values":[-0.2,0],"format":".1f","title":null}},"color":{"field":"label","type":"nominal","scale":{"range":["#ff0000"]},"legend":{"title":null}}}}
]},
{"width":184,"height":122,"title":{"text":"p(ΔR > 0)=1.2%"},
"layer":[
{"data":{"name":"bars"},"transform":[{"filter":"datum.model==='3B'&&datum.sigma==='3e-3'"}],"mark":{"type":"rect","fill":"#6b9bc3","stroke":"white","strokeWidth":1},
"encoding":{"x":{"field":"x0","type":"quantitative","scale":{"domain":[-5.04,0.735],"nice":false,"zero":false},"axis":{"values":[-4,-2,0],"format":"d","title":null}},"x2":{"field":"x1"},
"y":{"field":"count","type":"quantitative","scale":{"domain":[0,99.75],"nice":false},"axis":{"values":[0,50],"format":"d","title":null}},"y2":{"datum":0}}},
{"data":{"name":"stats"},"transform":[{"filter":"datum.model==='3B'&&datum.sigma==='3e-3'"}],"mark":{"type":"rule","stroke":"#808080","strokeDash":[6,3],"strokeWidth":2},
"encoding":{"x":{"datum":0,"type":"quantitative","scale":{"domain":[-5.04,0.735],"nice":false,"zero":false},"axis":{"values":[-4,-2,0],"format":"d","title":null}}}},
{"data":{"name":"stats"},"transform":[{"filter":"datum.model==='3B'&&datum.sigma==='3e-3'"}],"mark":{"type":"rule","strokeWidth":2},
"encoding":{"x":{"field":"mean","type":"quantitative","scale":{"domain":[-5.04,0.735],"nice":false,"zero":false},"axis":{"values":[-4,-2,0],"format":"d","title":null}},"color":{"field":"label","type":"nominal","scale":{"range":["#ff0000"]},"legend":{"title":null}}}}
]},
{"width":184,"height":122,"title":{"text":"p(ΔR > 0)=0.0%","offset":-4},
"layer":[
{"data":{"name":"bars"},"transform":[{"filter":"datum.model==='3B'&&datum.sigma==='1e-2'"}],"mark":{"type":"rect","fill":"#6b9bc3","stroke":"white","strokeWidth":1},
"encoding":{"x":{"field":"x0","type":"quantitative","scale":{"domain":[-4.93,0.27],"nice":false,"zero":false},"axis":{"values":[-4,-2,0],"format":"d","title":null}},"x2":{"field":"x1"},
"y":{"field":"count","type":"quantitative","scale":{"domain":[0,202.65],"nice":false},"axis":{"values":[0,100,200],"format":"d","title":null}},"y2":{"datum":0}}},
{"data":{"name":"stats"},"transform":[{"filter":"datum.model==='3B'&&datum.sigma==='1e-2'"}],"mark":{"type":"rule","stroke":"#808080","strokeDash":[6,3],"strokeWidth":2},
"encoding":{"x":{"datum":0,"type":"quantitative","scale":{"domain":[-4.93,0.27],"nice":false,"zero":false},"axis":{"values":[-4,-2,0],"format":"d","title":null}}}},
{"data":{"name":"stats"},"transform":[{"filter":"datum.model==='3B'&&datum.sigma==='1e-2'"}],"mark":{"type":"rule","strokeWidth":2},
"encoding":{"x":{"field":"mean","type":"quantitative","scale":{"domain":[-4.93,0.27],"nice":false,"zero":false},"axis":{"values":[-4,-2,0],"format":"d","title":null}},"color":{"field":"label","type":"nominal","scale":{"range":["#ff0000"]},"legend":{"title":null}}}}
]},

{"width":184,"height":122,"title":{"text":"p(ΔR > 0)=52.5%"},
"resolve":{"scale":{"y":"independent"},"axis":{"y":"independent"}},
"layer":[
{"data":{"name":"bars"},"transform":[{"filter":"datum.model==='7B'&&datum.sigma==='1e-4'"}],"mark":{"type":"rect","fill":"#6b9bc3","stroke":"white","strokeWidth":1},
"encoding":{"x":{"field":"x0","type":"quantitative","scale":{"domain":[-0.054,0.09],"nice":false,"zero":false},"axis":{"values":[-0.05,0,0.05],"format":".2f","title":"ΔR/(1 − R₀)"}},"x2":{"field":"x1"},
"y":{"field":"count","type":"quantitative","scale":{"domain":[0,86.1],"nice":false},"axis":{"values":[0,50],"format":"d","title":"Count","titleX":-31,"titleAngle":270,"titleBaseline":"bottom"}},"y2":{"datum":0}}},
{"data":{"name":"stats"},"transform":[{"filter":"datum.model==='7B'&&datum.sigma==='1e-4'"}],"mark":{"type":"rule","stroke":"#808080","strokeDash":[6,3],"strokeWidth":2},
"encoding":{"x":{"datum":0,"type":"quantitative","scale":{"domain":[-0.054,0.09],"nice":false,"zero":false},"axis":{"values":[-0.05,0,0.05],"format":".2f","title":"ΔR/(1 − R₀)"}},
"y":{"datum":0,"type":"quantitative","scale":{"domain":[0,1]},"axis":{"orient":"left","title":"7B","titleFontWeight":"bold","titleFontSize":22,"titleX":-61,"titleAngle":270,"titleBaseline":"bottom","domain":false,"ticks":false,"labels":false,"grid":false}},"y2":{"datum":1}}},
{"data":{"name":"stats"},"transform":[{"filter":"datum.model==='7B'&&datum.sigma==='1e-4'"}],"mark":{"type":"rule","strokeWidth":2},
"encoding":{"x":{"field":"mean","type":"quantitative","scale":{"domain":[-0.054,0.09],"nice":false,"zero":false},"axis":{"values":[-0.05,0,0.05],"format":".2f","title":"ΔR/(1 − R₀)"}},"color":{"field":"label","type":"nominal","scale":{"range":["#008000"]},"legend":{"title":null}}}}
]},
{"width":184,"height":122,"title":{"text":"p(ΔR > 0)=72.9%"},
"layer":[
{"data":{"name":"bars"},"transform":[{"filter":"datum.model==='7B'&&datum.sigma==='3e-4'"}],"mark":{"type":"rect","fill":"#6b9bc3","stroke":"white","strokeWidth":1},
"encoding":{"x":{"field":"x0","type":"quantitative","scale":{"domain":[-0.056,0.127],"nice":false,"zero":false},"axis":{"values":[0,0.1],"format":".1f","title":"ΔR/(1 − R₀)"}},"x2":{"field":"x1"},
"y":{"field":"count","type":"quantitative","scale":{"domain":[0,57.75],"nice":false},"axis":{"values":[0,20,40],"format":"d","title":null}},"y2":{"datum":0}}},
{"data":{"name":"stats"},"transform":[{"filter":"datum.model==='7B'&&datum.sigma==='3e-4'"}],"mark":{"type":"rule","stroke":"#808080","strokeDash":[6,3],"strokeWidth":2},
"encoding":{"x":{"datum":0,"type":"quantitative","scale":{"domain":[-0.056,0.127],"nice":false,"zero":false},"axis":{"values":[0,0.1],"format":".1f","title":"ΔR/(1 − R₀)"}}}},
{"data":{"name":"stats"},"transform":[{"filter":"datum.model==='7B'&&datum.sigma==='3e-4'"}],"mark":{"type":"rule","strokeWidth":2},
"encoding":{"x":{"field":"mean","type":"quantitative","scale":{"domain":[-0.056,0.127],"nice":false,"zero":false},"axis":{"values":[0,0.1],"format":".1f","title":"ΔR/(1 − R₀)"}},"color":{"field":"label","type":"nominal","scale":{"range":["#008000"]},"legend":{"title":null}}}}
]},
{"width":184,"height":122,"title":{"text":"p(ΔR > 0)=25.4%"},
"layer":[
{"data":{"name":"bars"},"transform":[{"filter":"datum.model==='7B'&&datum.sigma==='1e-3'"}],"mark":{"type":"rect","fill":"#6b9bc3","stroke":"white","strokeWidth":1},
"encoding":{"x":{"field":"x0","type":"quantitative","scale":{"domain":[-0.235,0.166],"nice":false,"zero":false},"axis":{"values":[-0.2,0],"format":".1f","title":"ΔR/(1 − R₀)"}},"x2":{"field":"x1"},
"y":{"field":"count","type":"quantitative","scale":{"domain":[0,31.5],"nice":false},"axis":{"values":[0,20],"format":"d","title":null}},"y2":{"datum":0}}},
{"data":{"name":"stats"},"transform":[{"filter":"datum.model==='7B'&&datum.sigma==='1e-3'"}],"mark":{"type":"rule","stroke":"#808080","strokeDash":[6,3],"strokeWidth":2},
"encoding":{"x":{"datum":0,"type":"quantitative","scale":{"domain":[-0.235,0.166],"nice":false,"zero":false},"axis":{"values":[-0.2,0],"format":".1f","title":"ΔR/(1 − R₀)"}}}},
{"data":{"name":"stats"},"transform":[{"filter":"datum.model==='7B'&&datum.sigma==='1e-3'"}],"mark":{"type":"rule","strokeWidth":2},
"encoding":{"x":{"field":"mean","type":"quantitative","scale":{"domain":[-0.235,0.166],"nice":false,"zero":false},"axis":{"values":[-0.2,0],"format":".1f","title":"ΔR/(1 − R₀)"}},"color":{"field":"label","type":"nominal","scale":{"range":["#ff0000"]},"legend":{"title":null}}}}
]},
{"width":184,"height":122,"title":{"text":"p(ΔR > 0)=0.0%"},
"layer":[
{"data":{"name":"bars"},"transform":[{"filter":"datum.model==='7B'&&datum.sigma==='3e-3'"}],"mark":{"type":"rect","fill":"#6b9bc3","stroke":"white","strokeWidth":1},
"encoding":{"x":{"field":"x0","type":"quantitative","scale":{"domain":[-0.76,0.065],"nice":false,"zero":false},"axis":{"values":[-0.5,0],"format":".1f","title":"ΔR/(1 − R₀)"}},"x2":{"field":"x1"},
"y":{"field":"count","type":"quantitative","scale":{"domain":[0,32.55],"nice":false},"axis":{"values":[0,20],"format":"d","title":null}},"y2":{"datum":0}}},
{"data":{"name":"stats"},"transform":[{"filter":"datum.model==='7B'&&datum.sigma==='3e-3'"}],"mark":{"type":"rule","stroke":"#808080","strokeDash":[6,3],"strokeWidth":2},
"encoding":{"x":{"datum":0,"type":"quantitative","scale":{"domain":[-0.76,0.065],"nice":false,"zero":false},"axis":{"values":[-0.5,0],"format":".1f","title":"ΔR/(1 − R₀)"}}}},
{"data":{"name":"stats"},"transform":[{"filter":"datum.model==='7B'&&datum.sigma==='3e-3'"}],"mark":{"type":"rule","strokeWidth":2},
"encoding":{"x":{"field":"mean","type":"quantitative","scale":{"domain":[-0.76,0.065],"nice":false,"zero":false},"axis":{"values":[-0.5,0],"format":".1f","title":"ΔR/(1 − R₀)"}},"color":{"field":"label","type":"nominal","scale":{"range":["#ff0000"]},"legend":{"title":null}}}}
]},
{"width":184,"height":122,"title":{"text":"p(ΔR > 0)=0.0%"},
"layer":[
{"data":{"name":"bars"},"transform":[{"filter":"datum.model==='7B'&&datum.sigma==='1e-2'"}],"mark":{"type":"rect","fill":"#6b9bc3","stroke":"white","strokeWidth":1},
"encoding":{"x":{"field":"x0","type":"quantitative","scale":{"domain":[-4.74,0.255],"nice":false,"zero":false},"axis":{"values":[-4,-2,0],"format":"d","title":"ΔR/(1 − R₀)"}},"x2":{"field":"x1"},
"y":{"field":"count","type":"quantitative","scale":{"domain":[0,143.85],"nice":false},"axis":{"values":[0,50,100],"format":"d","title":null}},"y2":{"datum":0}}},
{"data":{"name":"stats"},"transform":[{"filter":"datum.model==='7B'&&datum.sigma==='1e-2'"}],"mark":{"type":"rule","stroke":"#808080","strokeDash":[6,3],"strokeWidth":2},
"encoding":{"x":{"datum":0,"type":"quantitative","scale":{"domain":[-4.74,0.255],"nice":false,"zero":false},"axis":{"values":[-4,-2,0],"format":"d","title":"ΔR/(1 − R₀)"}}}},
{"data":{"name":"stats"},"transform":[{"filter":"datum.model==='7B'&&datum.sigma==='1e-2'"}],"mark":{"type":"rule","strokeWidth":2},
"encoding":{"x":{"field":"mean","type":"quantitative","scale":{"domain":[-4.74,0.255],"nice":false,"zero":false},"axis":{"values":[-4,-2,0],"format":"d","title":"ΔR/(1 − R₀)"}},"color":{"field":"label","type":"nominal","scale":{"range":["#ff0000"]},"legend":{"title":null}}}}
]}
]
}
],
"resolve": {"scale": {"color": "independent"}, "legend": {"color": "independent"}}
}
